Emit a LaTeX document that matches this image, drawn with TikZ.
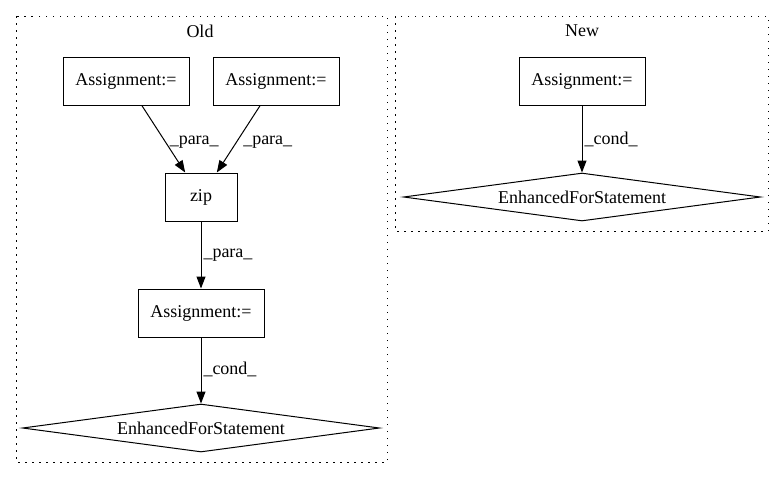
\documentclass[tikz,border=0pt]{standalone}
\usepackage{fontspec}
\setmainfont{Liberation Serif}
\usetikzlibrary{shapes.geometric,arrows.meta}
\tikzset{
  box/.style={draw, line width=1pt, rectangle, minimum height=48pt, inner sep=0pt, font=\fontsize{18}{21}\selectfont},
  dia/.style={draw, line width=1pt, diamond, aspect=7.4, minimum width=357pt, minimum height=48pt, inner sep=0pt, font=\fontsize{18}{21}\selectfont},
  cluster/.style={draw, line width=1pt, dash pattern=on 1.5pt off 5.5pt},
  title/.style={font=\fontsize{18}{21}\selectfont, inner sep=0pt},
  edge/.style={line width=1pt, -{Triangle[length=12pt,width=9pt]}},
  lbl/.style={font=\fontsize{18}{21}\selectfont, anchor=west, inner sep=2pt}
}
\begin{document}
\begin{tikzpicture}[x=1pt,y=-1pt]
\useasboundingbox (0,0) rectangle (784,480);
\draw[cluster] (16,16) rectangle (387,462);
\draw[cluster] (395,16) rectangle (768,231);
\node[title] (oldt) at (200,31) {Old};
\node[title] (newt) at (582,31) {New};
% Old
\node[box, minimum width=126pt] (a1) at (126,81) {Assignment:=};
\node[box, minimum width=126pt] (a2) at (276,81) {Assignment:=};
\node[box, minimum width=72pt] (zip) at (201,197) {zip};
\node[box, minimum width=126pt] (a3) at (201,313) {Assignment:=};
\node[dia] (e1) at (201,428) {EnhancedForStatement};
\draw[edge] (a1) -- node[lbl, pos=0.54, xshift=2pt] {\_para\_} (zip);
\draw[edge] (a2) -- node[lbl, pos=0.54, xshift=4pt] {\_para\_} (zip);
\draw[edge] (zip) -- node[lbl, pos=0.5] {\_para\_} (a3);
\draw[edge] (a3) -- node[lbl, pos=0.49] {\_cond\_} (e1);
% New
\node[box, minimum width=126pt] (b1) at (582,81) {Assignment:=};
\node[dia] (e2) at (582,197) {EnhancedForStatement};
\draw[edge] (b1) -- node[lbl, pos=0.5] {\_cond\_} (e2);
\end{tikzpicture}
\end{document}
